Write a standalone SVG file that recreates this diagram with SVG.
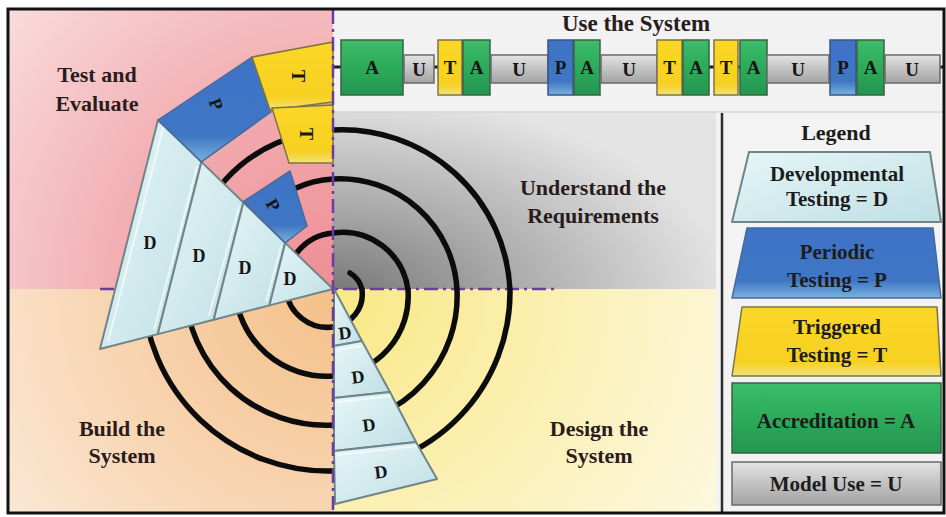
<svg xmlns="http://www.w3.org/2000/svg" width="946" height="517" viewBox="0 0 946 517">
<defs>
<radialGradient id="gPink" gradientUnits="userSpaceOnUse" cx="333" cy="289" r="430">
<stop offset="0" stop-color="#ee8e94"/><stop offset="0.5" stop-color="#f2aeb2"/><stop offset="1" stop-color="#f9dcdd"/>
</radialGradient>
<radialGradient id="gPeach" gradientUnits="userSpaceOnUse" cx="333" cy="289" r="430">
<stop offset="0" stop-color="#f4c088"/><stop offset="0.55" stop-color="#f8d6b4"/><stop offset="1" stop-color="#fbebdc"/>
</radialGradient>
<radialGradient id="gGray" gradientUnits="userSpaceOnUse" cx="333" cy="295" r="400" gradientTransform="translate(0,147.5) scale(1,0.5)">
<stop offset="0" stop-color="#767676"/><stop offset="0.45" stop-color="#ababab"/><stop offset="1" stop-color="#e4e4e4"/>
</radialGradient>
<radialGradient id="gYellow" gradientUnits="userSpaceOnUse" cx="333" cy="289" r="460">
<stop offset="0" stop-color="#f9e884"/><stop offset="0.5" stop-color="#fbf0b4"/><stop offset="1" stop-color="#fdf8e2"/>
</radialGradient>
<linearGradient id="gD" x1="0" y1="0" x2="1" y2="1">
<stop offset="0" stop-color="#e6f6f8"/><stop offset="1" stop-color="#bfdfe4"/>
</linearGradient>
<linearGradient id="gBlue" x1="0" y1="0" x2="0" y2="1">
<stop offset="0" stop-color="#3e73c6"/><stop offset="0.75" stop-color="#3f76c4"/><stop offset="1" stop-color="#79b2de"/>
</linearGradient>
<linearGradient id="gYel" x1="0" y1="0" x2="0" y2="1">
<stop offset="0" stop-color="#fbd726"/><stop offset="0.8" stop-color="#f7d020"/><stop offset="1" stop-color="#f3e27a"/>
</linearGradient>
<linearGradient id="gGreen" x1="0" y1="0" x2="0" y2="1">
<stop offset="0" stop-color="#3cbd6a"/><stop offset="0.5" stop-color="#2cab5a"/><stop offset="1" stop-color="#239550"/>
</linearGradient>
<linearGradient id="gU" x1="0" y1="0" x2="0" y2="1">
<stop offset="0" stop-color="#e4e4e4"/><stop offset="0.5" stop-color="#c2c2c2"/><stop offset="1" stop-color="#a4a4a4"/>
</linearGradient>
<style>
.lbl{font-family:"Liberation Serif","Times New Roman",serif;font-weight:bold;font-size:22px;fill:#2a1c1c;text-anchor:middle}
.lg{font-family:"Liberation Serif","Times New Roman",serif;font-weight:bold;font-size:21px;fill:#1c1c1c;text-anchor:middle}
.let{font-family:"Liberation Serif","Times New Roman",serif;font-weight:bold;font-size:18px;fill:#151515;text-anchor:middle}
.bx{font-family:"Liberation Serif","Times New Roman",serif;font-weight:bold;font-size:19px;fill:#151515;text-anchor:middle}
.dw{fill:url(#gD);stroke:#6f8587;stroke-width:2;stroke-linejoin:round}
.bev{fill:none;stroke:#ffffff;stroke-opacity:0.6;stroke-width:2}
.pw{fill:url(#gBlue);stroke:#4a6a9a;stroke-width:1.5;stroke-linejoin:round}
.tw{fill:url(#gYel);stroke:#7d7444;stroke-width:1.5;stroke-linejoin:round}
.bA{fill:url(#gGreen);stroke:#3b5f46;stroke-width:1.5}
.bU{fill:url(#gU);stroke:#6a6a6a;stroke-width:1.5}
.bT{fill:url(#gYel);stroke:#7d7444;stroke-width:1.5}
.bP{fill:url(#gBlue);stroke:#3a5485;stroke-width:1.5}
.dash{stroke:#6a3e9e;stroke-width:2.5;fill:none;stroke-dasharray:14 5 3 5}
</style>
</defs>

<g id="background">
<rect x="8" y="9" width="325" height="280" fill="url(#gPink)"/>
<rect x="8" y="289" width="325" height="224" fill="url(#gPeach)"/>
<rect x="333" y="9" width="611" height="103" fill="#f2f2f2"/>
<rect x="333" y="112" width="385" height="177" fill="url(#gGray)"/>
<rect x="333" y="289" width="385" height="224" fill="url(#gYellow)"/>
<rect x="716" y="112" width="228" height="401" fill="#f3f3f3"/>
<line x1="333" y1="112" x2="944" y2="112" stroke="#d6d6d6" stroke-width="1.5"/>
</g>

<g id="connectors">
<line class="dash" x1="100" y1="289" x2="557" y2="289"/>
<path id="spiral" d="M 350 273 A 26 26 0 0 1 362 290 A 33 33 0 0 1 333 327 A 42 42 0 0 1 286 290 A 52 52 0 0 1 333 233 A 66 66 0 0 1 408 290 A 80 80 0 0 1 333 376 A 92 92 0 0 1 235 290 A 104 104 0 0 1 333 179 A 117 117 0 0 1 457 290 A 129 129 0 0 1 333 425 A 141 141 0 0 1 185 290 A 154 154 0 0 1 333 130 A 168 168 0 0 1 510 290 A 179 179 0 0 1 333 471 A 185 185 0 0 1 143 290" fill="none" stroke="#0c0c0c" stroke-width="5.5" stroke-linecap="round"/>
<line x1="333" y1="67" x2="944" y2="67" stroke="#1e1e1e" stroke-width="3"/>
</g>

<g id="wedge-D-left">
<polygon class="dw" points="158,120 201.4,161.9 157.8,334.1 100,349"/>
<polygon class="dw" points="201.4,161.9 243.4,202.5 213.7,319.7 157.8,334.1"/>
<polygon class="dw" points="243.4,202.5 285.2,242.9 269.4,305.4 213.7,319.7"/>
<polygon class="dw" points="285.2,242.9 333,289 269.4,305.4"/>
<path class="bev" d="M 197 166 L 154 330 M 239 206 L 209 316 M 281 246 L 266 302 M 163 128 L 108 342"/>
<text class="let" x="150" y="249">D</text>
<text class="let" x="199" y="262">D</text>
<text class="let" x="245" y="274">D</text>
<text class="let" x="290" y="285">D</text>
</g>

<g id="wedge-P-outer">
<polygon class="pw" points="158,120 252,57 271,112 201.4,161.9"/>
<text class="let" x="216" y="104" transform="rotate(70 216 104)" dy="6" fill="#1a2a5e">P</text>
</g>
<g id="wedge-P-inner">
<polygon class="pw" points="243.5,201.5 290,171 307,226 285.2,242.9"/>
<text class="let" x="273" y="205" transform="rotate(60 273 205)" dy="6">P</text>
</g>
<g id="wedge-T-outer">
<polygon class="tw" points="252,57 333,42 333,102 270,110"/>
<text class="let" x="298" y="76" transform="rotate(90 298 76)" dy="6">T</text>
</g>
<g id="wedge-T-inner">
<polygon class="tw" points="272,108 333,105 333,163 289,163"/>
<text class="let" x="306" y="134" transform="rotate(90 306 134)" dy="6">T</text>
</g>

<g id="wedge-D-bottom">
<polygon class="dw" points="334,289 362,341 334,346"/>
<polygon class="dw" points="334,346 362,341 390,392 334,398"/>
<polygon class="dw" points="334,398 390,392 416,442 334,451"/>
<polygon class="dw" points="334,451 416,442 437,479 335,504"/>
<path class="bev" d="M 337 350 L 362 346 M 337 402 L 391 396 M 337 455 L 417 446"/>
<text class="let" x="345" y="339" transform="rotate(-7 345 333)">D</text>
<text class="let" x="358" y="383" transform="rotate(-7 358 377)">D</text>
<text class="let" x="369" y="431" transform="rotate(-7 369 425)">D</text>
<text class="let" x="381" y="478" transform="rotate(-7 381 472)">D</text>
</g>

<line class="dash" x1="333" y1="10" x2="333" y2="512"/>

<g id="quadrant-labels">
<text class="lbl" x="97" y="82">Test and</text>
<text class="lbl" x="97" y="111">Evaluate</text>
<text class="lbl" x="122" y="436">Build the</text>
<text class="lbl" x="122" y="463">System</text>
<text class="lbl" x="593" y="195">Understand the</text>
<text class="lbl" x="593" y="223">Requirements</text>
<text class="lbl" x="599" y="436">Design the</text>
<text class="lbl" x="599" y="463">System</text>
<text class="lbl" x="636" y="31" style="font-size:23px">Use the System</text>
</g>

<g id="use-band">
<g id="u1"><rect class="bA" x="341" y="40" width="62" height="55"/><text class="bx" x="372" y="74">A</text></g>
<g id="u2"><rect class="bU" x="404" y="55" width="30" height="28"/><text class="bx" x="419" y="76">U</text></g>
<g id="u3"><rect class="bT" x="438" y="40" width="24" height="55"/><text class="bx" x="450" y="74">T</text></g>
<g id="u4"><rect class="bA" x="463" y="40" width="27" height="55"/><text class="bx" x="476.5" y="74">A</text></g>
<g id="u5"><rect class="bU" x="491" y="55" width="57" height="28"/><text class="bx" x="519" y="76">U</text></g>
<g id="u6"><rect class="bP" x="548" y="40" width="25" height="55"/><text class="bx" x="560.5" y="74" fill="#101c40">P</text></g>
<g id="u7"><rect class="bA" x="574" y="40" width="26" height="55"/><text class="bx" x="587" y="74">A</text></g>
<g id="u8"><rect class="bU" x="601" y="55" width="56" height="28"/><text class="bx" x="629" y="76">U</text></g>
<g id="u9"><rect class="bT" x="657" y="40" width="25" height="55"/><text class="bx" x="669.5" y="74">T</text></g>
<g id="u10"><rect class="bA" x="683" y="40" width="26" height="55"/><text class="bx" x="696" y="74">A</text></g>
<g id="u11"><rect class="bT" x="714" y="40" width="24" height="55"/><text class="bx" x="726" y="74">T</text></g>
<g id="u12"><rect class="bA" x="740" y="40" width="27" height="55"/><text class="bx" x="753.5" y="74">A</text></g>
<g id="u13"><rect class="bU" x="767" y="55" width="62" height="28"/><text class="bx" x="798" y="76">U</text></g>
<g id="u14"><rect class="bP" x="830" y="40" width="26" height="55"/><text class="bx" x="843" y="74" fill="#101c40">P</text></g>
<g id="u15"><rect class="bA" x="857" y="40" width="27" height="55"/><text class="bx" x="870.5" y="74">A</text></g>
<g id="u16"><rect class="bU" x="885" y="55" width="55" height="28"/><text class="bx" x="912" y="76">U</text></g>
</g>

<g id="legend">
<line x1="722" y1="113" x2="722" y2="512" stroke="#2e2e2e" stroke-width="2.5"/>
<text class="lg" x="836" y="140" style="font-size:22px">Legend</text>
<g id="leg-D"><polygon class="dw" points="749,152 930,152 941,222 732,222"/><text class="lg" x="837" y="181">Developmental</text><text class="lg" x="837" y="206">Testing = D</text></g>
<g id="leg-P"><polygon class="pw" points="747,228 933,228 941,298 732,298"/><text class="lg" x="837" y="259" fill="#1a2a5e">Periodic</text><text class="lg" x="837" y="287" fill="#1a2a5e">Testing = P</text></g>
<g id="leg-T"><polygon class="tw" points="742,307 937,307 941,376 732,376"/><text class="lg" x="837" y="334">Triggered</text><text class="lg" x="837" y="362">Testing = T</text></g>
<g id="leg-A"><rect class="bA" x="732" y="383" width="209" height="70"/><text class="lg" x="836" y="428" fill="#0f3a1e">Accreditation = A</text></g>
<g id="leg-U"><rect class="bU" x="732" y="462" width="209" height="43"/><text class="lg" x="836" y="491">Model Use = U</text></g>
</g>

<rect x="8" y="9" width="936" height="504" fill="none" stroke="#111" stroke-width="3"/>
</svg>
